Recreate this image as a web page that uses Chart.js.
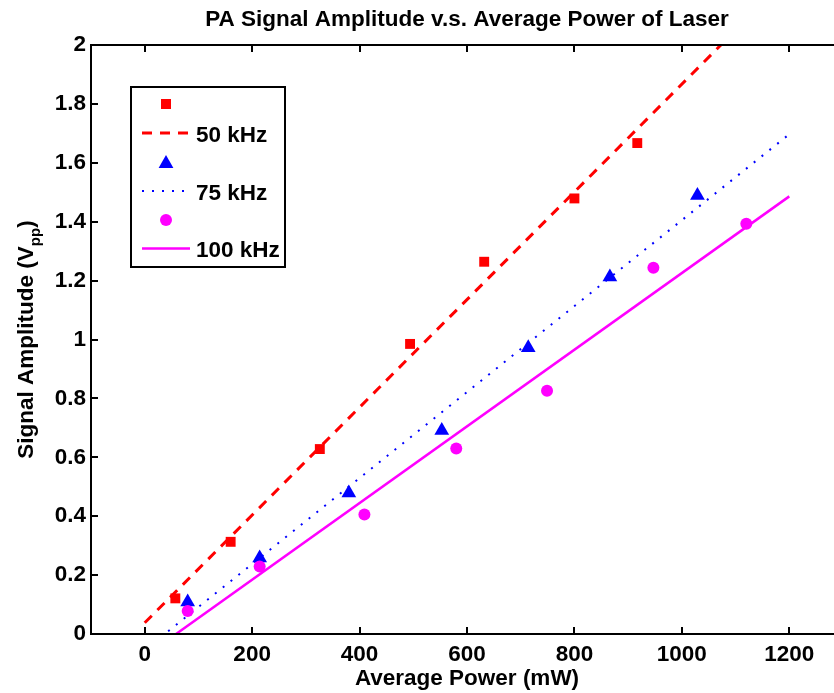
<!DOCTYPE html>
<html>
<head>
<meta charset="utf-8">
<title>PA Signal Amplitude</title>
<script src="https://cdn.jsdelivr.net/npm/chart.js@4.4.1/dist/chart.umd.min.js"></script>
<style>
  body { margin: 0; background: #fff; overflow: hidden; }
  #wrap { width: 860px; height: 693px; }
</style>
</head>
<body>
<div id="wrap"><canvas id="paChart" width="860" height="693"></canvas></div>
<script>
// axis ticks
const xTicks = [0, 200, 400, 600, 800, 1000, 1200];
const xTickLabels = ['0', '200', '400', '600', '800', '1000', '1200'];
const yTicks = [0, 0.2, 0.4, 0.6, 0.8, 1, 1.2, 1.4, 1.6, 1.8, 2];
const yTickLabels = ['0', '0.2', '0.4', '0.6', '0.8', '1', '1.2', '1.4', '1.6', '1.8', '2'];

// measured points (mW, Vpp)
const power50 = [57, 160, 326, 494, 632, 800, 917];
const amp50 = [0.121, 0.313, 0.628, 0.985, 1.264, 1.479, 1.667];
const power75 = [80, 214, 380, 553, 714, 866, 1029];
const amp75 = [0.109, 0.258, 0.479, 0.691, 0.972, 1.212, 1.489];
const power100 = [80, 214, 409, 580, 749, 947, 1120];
const amp100 = [0.078, 0.229, 0.406, 0.630, 0.826, 1.244, 1.393];

// linear fit end points
const fitX = [0, 1200];
const fit50 = [0.038, 2.233];
const fit75 = [-0.054, 1.697];
const fit100 = [-0.076, 1.486];

const seriesNames = ['50 kHz', '75 kHz', '100 kHz'];

const FONT = 'bold 22.5px "Liberation Sans", Arial, Helvetica, sans-serif';
const RED = '#ff0000', BLUE = '#0000ff', MAGENTA = '#ff00ff';

function pts(xs, ys) {
    return xs.map((v, i) => ({x: v, y: ys[i]}));
}

function drawMarker(ctx, style, x, y, color) {
    ctx.fillStyle = color;
    ctx.beginPath();
    if (style === 'rect') {
        ctx.rect(x - 5, y - 5, 10, 10);
    } else if (style === 'triangle') {
        ctx.moveTo(x, y - 6.5);
        ctx.lineTo(x + 7.4, y + 6.5);
        ctx.lineTo(x - 7.4, y + 6.5);
        ctx.closePath();
    } else {
        ctx.arc(x, y, 6, 0, Math.PI * 2);
    }
    ctx.fill();
}

const framePlugin = {
    id: 'frame',
    afterDraw(chart) {
        const {ctx, chartArea: a, scales: {x, y}} = chart;
        ctx.save();
        ctx.strokeStyle = '#000';
        ctx.lineWidth = 2;
        ctx.strokeRect(a.left, a.top, a.right - a.left, a.bottom - a.top);

        // inward tick marks
        ctx.beginPath();
        xTicks.forEach(v => {
            const px = Math.round(x.getPixelForValue(v));
            ctx.moveTo(px, a.bottom); ctx.lineTo(px, a.bottom - 7);
            ctx.moveTo(px, a.top); ctx.lineTo(px, a.top + 7);
        });
        yTicks.forEach(v => {
            const py = Math.round(y.getPixelForValue(v));
            ctx.moveTo(a.left, py); ctx.lineTo(a.left + 7, py);
            ctx.moveTo(a.right, py); ctx.lineTo(a.right - 7, py);
        });
        ctx.stroke();

        // titles
        const cx = (a.left + a.right) / 2;
        ctx.fillStyle = '#000';
        ctx.font = FONT;
        ctx.textAlign = 'center';
        ctx.textBaseline = 'alphabetic';
        ctx.fillText('PA Signal Amplitude v.s. Average Power of Laser', cx, 26);
        ctx.fillText('Average Power (mW)', cx, 685);

        // y label with subscript
        const main1 = 'Signal Amplitude (V', sub = 'pp', main2 = ')';
        const subFont = 'bold 15px "Liberation Sans", Arial, Helvetica, sans-serif';
        const w1 = ctx.measureText(main1).width;
        const w3 = ctx.measureText(main2).width;
        ctx.font = subFont;
        const w2 = ctx.measureText(sub).width;
        const total = w1 + w2 + w3;
        ctx.save();
        ctx.translate(32.5, (a.top + a.bottom) / 2);
        ctx.rotate(-Math.PI / 2);
        ctx.textAlign = 'left';
        ctx.font = FONT;
        ctx.fillText(main1, -total / 2, 0);
        ctx.font = subFont;
        ctx.fillText(sub, -total / 2 + w1, 7);
        ctx.font = FONT;
        ctx.fillText(main2, -total / 2 + w1 + w2, 0);
        ctx.restore();

        // legend box
        ctx.fillStyle = '#fff';
        ctx.fillRect(131, 87, 154, 180);
        ctx.strokeRect(131, 87, 154, 180);
        const styles = ['rect', 'triangle', 'circle'];
        const colors = [RED, BLUE, MAGENTA];
        const dashes = [[10, 8], [2, 8], []];
        const widths = [3, 2, 2.5];
        const markerY = [104, 161.5, 220];
        const lineY = [133, 191, 248.5];
        const textY = [141.5, 200, 256.5];
        seriesNames.forEach((name, i) => {
            drawMarker(ctx, styles[i], 166, markerY[i], colors[i]);
            ctx.beginPath();
            ctx.strokeStyle = colors[i];
            ctx.lineWidth = widths[i];
            ctx.setLineDash(dashes[i]);
            ctx.moveTo(142, lineY[i]);
            ctx.lineTo(190, lineY[i]);
            ctx.stroke();
            ctx.setLineDash([]);
            ctx.fillStyle = '#000';
            ctx.font = FONT;
            ctx.textAlign = 'left';
            ctx.fillText(name, 196, textY[i]);
        });
        ctx.restore();
    }
};

const ctx = document.getElementById('paChart').getContext('2d');

const chart = new Chart(ctx, {
    type: 'scatter',
    data: {
        datasets: [
            {label: seriesNames[0], data: pts(power50, amp50), pointStyle: 'rect', pointRadius: 7,
                backgroundColor: RED, borderWidth: 0, order: 5},
            {label: seriesNames[0] + ' fit', data: pts(fitX, fit50), showLine: true, pointRadius: 0,
                borderColor: RED, borderWidth: 3, borderDash: [10, 8], order: 4},
            {label: seriesNames[1], data: pts(power75, amp75), pointStyle: 'triangle', pointRadius: 8.5,
                backgroundColor: BLUE, borderWidth: 0, order: 3},
            {label: seriesNames[1] + ' fit', data: pts(fitX, fit75), showLine: true, pointRadius: 0,
                borderColor: BLUE, borderWidth: 2, borderDash: [2, 8], order: 2},
            {label: seriesNames[2], data: pts(power100, amp100), pointStyle: 'circle', pointRadius: 6,
                backgroundColor: MAGENTA, borderWidth: 0, order: 1},
            {label: seriesNames[2] + ' fit', data: pts(fitX, fit100), showLine: true, pointRadius: 0,
                borderColor: MAGENTA, borderWidth: 2.5, order: 0}
        ]
    },
    options: {
        responsive: false,
        animation: false,
        devicePixelRatio: 1,
        layout: {padding: {left: 0, top: 45, right: 17, bottom: 0}},
        plugins: {
            legend: {display: false},
            tooltip: {enabled: false}
        },
        scales: {
            x: {
                type: 'linear',
                min: -100,
                max: 1300,
                afterBuildTicks: scale => { scale.ticks = xTicks.map(v => ({value: v})); },
                afterFit: scale => { scale.height = 59; },
                grid: {display: false, drawTicks: false},
                border: {display: false},
                ticks: {
                    autoSkip: false,
                    maxRotation: 0,
                    padding: 7,
                    color: '#000',
                    font: {family: '"Liberation Sans", Arial, sans-serif', size: 22.5, weight: 'bold'},
                    callback: (value, index) => xTickLabels[index]
                }
            },
            y: {
                type: 'linear',
                min: 0,
                max: 2,
                afterBuildTicks: scale => { scale.ticks = yTicks.map(v => ({value: v})); },
                afterFit: scale => { scale.width = 91; },
                grid: {display: false, drawTicks: false},
                border: {display: false},
                ticks: {
                    autoSkip: false,
                    padding: 5,
                    color: '#000',
                    font: {family: '"Liberation Sans", Arial, sans-serif', size: 22.5, weight: 'bold'},
                    callback: (value, index) => yTickLabels[index]
                }
            }
        }
    },
    plugins: [framePlugin]
});
</script>
</body>
</html>
